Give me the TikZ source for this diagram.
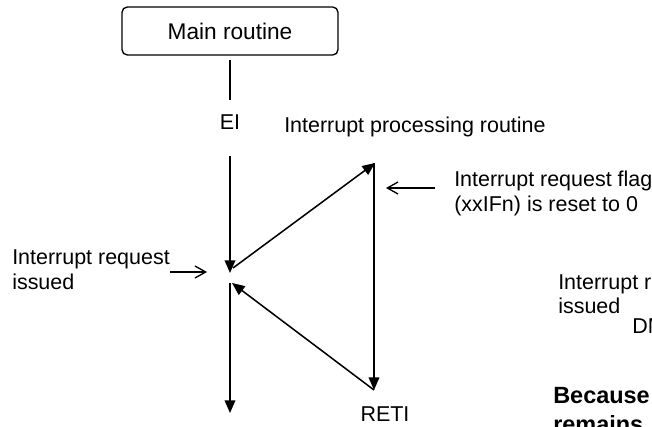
\documentclass[tikz,border=0pt]{standalone}
\usepackage{fontspec}
\setmainfont{Liberation Sans}
\usetikzlibrary{arrows.meta}
\begin{document}
\begin{tikzpicture}[x=0.75pt,y=-0.75pt,
  lbl/.style={font=\fontsize{16.1}{19}\selectfont, inner sep=0pt, anchor=base west},
  boldlbl/.style={font=\fontsize{17.6}{21}\selectfont\bfseries, inner sep=0pt, anchor=base west},
  flow/.style={line width=1.15pt, -{Triangle[length=9.5pt,width=8pt]}},
  hint/.style={line width=1pt, -{Straight Barb[length=8pt,width=9pt]}},
  plain/.style={line width=1.15pt},
  routinebox/.style={draw, line width=1pt, rounded corners=4pt, minimum width=162pt, minimum height=36pt, inner sep=0pt, font=\fontsize{17}{20}\selectfont}
]
\path[use as bounding box, clip] (0,0) rectangle (652,427);
% box
\node[routinebox] (main) at (230,31) {Main routine};
% labels
\node[lbl, anchor=base] (ei) at (230,130) {EI};
\node[lbl] (ipr) at (284,133) {Interrupt processing routine};
\node[lbl] (flag1) at (454,187) {Interrupt request flag};
\node[lbl] (flag2) at (454,212) {(xxIFn) is reset to 0};
\node[lbl] (iri1) at (12,265) {Interrupt request};
\node[lbl] (iri2) at (12,290) {issued};
\node[lbl, anchor=base] (reti) at (385,421) {RETI};
\node[lbl] (iri3) at (558,290) {Interrupt request};
\node[lbl] (iri4) at (558,313) {issued};
\node[lbl] (dma) at (632,333) {DMA};
\node[boldlbl] (bec) at (553,403) {Because};
\node[boldlbl] (rem) at (553,432) {remains};
% points
\coordinate (a1) at (230,60);
\coordinate (a2) at (230,100);
\coordinate (b1) at (230,156);
\coordinate (b2) at (230,273);
\coordinate (c1) at (233,268);
\coordinate (c2) at (375,163);
\coordinate (d1) at (374,163);
\coordinate (d2) at (374,390);
\coordinate (e1) at (374,390);
\coordinate (e2) at (232,283);
\coordinate (f1) at (230,283);
\coordinate (f2) at (230,413);
\coordinate (g1) at (170,272);
\coordinate (g2) at (207,272);
\coordinate (h1) at (435,188);
\coordinate (h2) at (386,188);
% connectors
\draw[plain] (a1) -- (a2);
\draw[flow] (b1) -- (b2);
\draw[flow] (c1) -- (c2);
\draw[flow] (d1) -- (d2);
\draw[flow] (e1) -- (e2);
\draw[flow] (f1) -- (f2);
\draw[hint] (g1) -- (g2);
\draw[hint] (h1) -- (h2);
\end{tikzpicture}
\end{document}
